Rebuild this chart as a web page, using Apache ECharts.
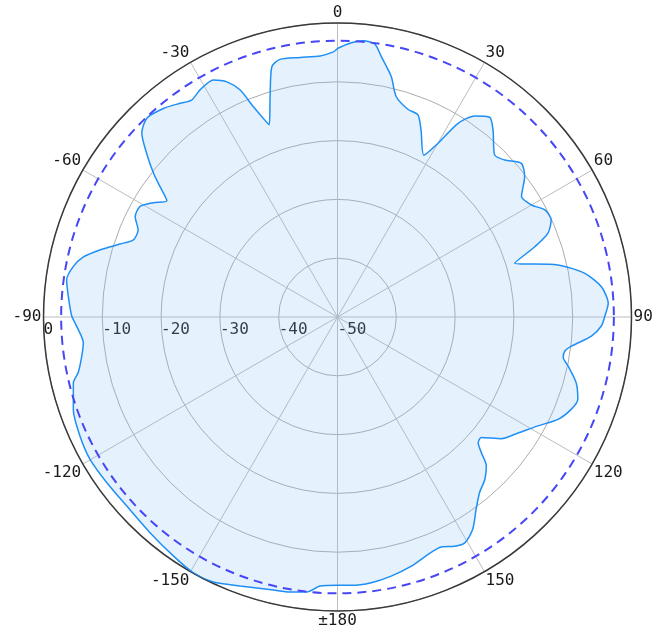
<!DOCTYPE html>
<html><head><meta charset="utf-8">
<script src="https://cdn.jsdelivr.net/npm/echarts@6/dist/echarts.min.js"></script>
<style>html,body{margin:0;padding:0;background:#fff}#c{width:661px;height:637px}</style>
</head><body><div id="c"></div>
<script>
// Measured radiation pattern: compass angle (deg, 0 = top, clockwise) and gain (dB)
const angleDeg = [
  -180, -176.3, -173.6, -170.2, -166.8, -160.1, -154.9, -150.6, -145.5, -139.0,
  -131.9, -125.7, -119.9, -114.8, -109.3, -104.0, -102.1, -98.7, -95.8, -92.0,
  -89.8, -85.7, -82.2, -79.2, -76.7, -74.25, -71.45, -69.3, -66.4, -63.65,
  -60.8, -58.2, -55.75, -53.7, -52.0, -49.4, -46.8, -43.8, -39.85, -36.4,
  -33.9, -31.2, -27.65, -25.2, -23.2, -21.8, -19.55, -17.0, -14.7, -12.6,
  -8.2, -3.8, -0.9, 0.1, 2.9, 5.3, 7.8, 9.55, 12.6, 14.9,
  18.7, 21.7, 24.1, 28.1, 30.05, 31.9, 34.3, 37.3, 39.7, 44.1,
  46.8, 50.1, 53.1, 56.8, 60.0, 62.7, 65.6, 68.3, 70.4, 73.1,
  76.7, 80.0, 83.4, 87.1, 89.9, 91.95, 94.3, 97.1, 98.5, 100.2,
  102.0, 105.4, 108.9, 111.5, 114.9, 118.5, 122.7, 126.6, 130.0, 131.8,
  133.3, 135.0, 137.8, 141.0, 144.2, 147.5, 150.6, 152.9, 155.7, 159.1,
  163.5, 168.3, 172.75, 177.1, 180
];
const gainDb = [
  -4.4, -4.15, -2.94, -2.53, -2.3, -1.34, -0.22, -0.07, -0.7, -1.4,
  -1.85, -1.7, -1.45, -1.75, -2.4, -3.7, -4.9, -6.0, -6.55, -5.6,
  -4.8, -4.1, -3.5, -4.25, -5.6, -8.0, -11.0, -12.9, -13.0, -11.6,
  -11.5, -13.1, -14.9, -12.55, -10.3, -7.25, -4.35, -3.15, -3.8, -4.85,
  -5.55, -4.85, -4.5, -5.8, -8.0, -11.5, -15.3, -10.8, -6.0, -5.1,
  -5.4, -5.5, -4.9, -4.3, -3.3, -2.8, -3.15, -5.1, -8.1, -11.2,
  -12.7, -13.0, -15.2, -18.8, -15.9, -11.2, -8.6, -7.3, -8.6, -11.6,
  -11.0, -9.25, -10.2, -12.6, -11.9, -10.3, -10.1, -11.5, -14.4, -18.5,
  -11.5, -7.3, -4.85, -3.9, -4.55, -5.1, -6.7, -9.9, -10.9, -11.0,
  -9.9, -7.9, -6.8, -7.25, -8.65, -11.2, -13.5, -15.3, -18.1, -17.9,
  -16.4, -14.2, -12.7, -11.6, -9.7, -7.2, -5.9, -6.2, -7.1, -6.8,
  -5.8, -5.0, -4.45, -4.3, -4.4
];
const refLevelDb = -3;          // dashed reference circle
const radiusMin = -50, radiusMax = 0, radiusStep = 10;
const angleStep = 30;

const CX = 337.5, CY = 317, R = 294;
const FONT = 'DejaVu Sans Mono';
const toAxis = a => ((a + 90) % 360 + 360) % 360;   // compass -> axis (axis 0 = left)
const seriesData = angleDeg.map((a, i) => [gainDb[i], toAxis(a)]);
const refRadius = R * (refLevelDb - radiusMin) / (radiusMax - radiusMin);

const chart = echarts.init(document.getElementById('c'), null, {renderer: 'canvas'});
chart.setOption({
  animation: false,
  backgroundColor: '#fff',
  polar: [
    {center: [CX, CY], radius: R},
    {center: [CX, CY], radius: refRadius}
  ],
  angleAxis: [
    {
      polarIndex: 0, type: 'value', min: 0, max: 360, interval: angleStep,
      startAngle: 180, clockwise: true,
      axisLine: {lineStyle: {color: '#3a3a3a', width: 1.5}},
      axisTick: {show: false},
      axisLabel: {
        margin: 2, color: '#1a1a1a', fontSize: 16, fontFamily: FONT,
        formatter: v => {
          if (v >= 360) return '';
          let c = v - 90; if (c > 180) c -= 360;
          return Math.abs(c) === 180 ? '±180' : String(c);
        }
      },
      splitLine: {lineStyle: {color: '#bcbcbc', width: 1}}
    },
    {
      polarIndex: 1, type: 'value', min: 0, max: 360, startAngle: 180, z: 5,
      axisLine: {lineStyle: {color: '#4646f5', width: 2, type: [9, 6]}},
      axisTick: {show: false}, axisLabel: {show: false}, splitLine: {show: false}
    }
  ],
  radiusAxis: [
    {
      polarIndex: 0, type: 'value', min: radiusMin, max: radiusMax, interval: radiusStep,
      axisLine: {show: false}, axisTick: {show: false},
      axisLabel: {
        color: '#1a1a1a', fontSize: 16, fontFamily: FONT, margin: 5,
        align: 'left', verticalAlign: 'top', showMinLabel: true, showMaxLabel: true
      },
      splitLine: {lineStyle: {color: '#acacac', width: 1}}
    },
    {polarIndex: 1, type: 'value', min: radiusMin, max: radiusMax, show: false}
  ],
  series: [{
    type: 'line', coordinateSystem: 'polar', polarIndex: 0,
    data: seriesData, symbol: 'none', smooth: 0.25,
    lineStyle: {color: '#1e8ff5', width: 1.5},
    areaStyle: {color: 'rgba(135,190,250,0.3)', origin: 'start'},
    z: 3
  }]
});
</script></body></html>
